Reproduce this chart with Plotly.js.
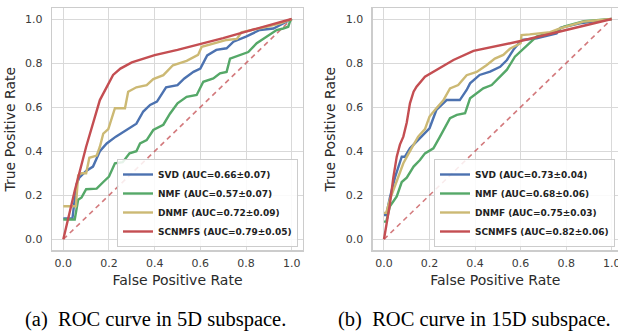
<!DOCTYPE html>
<html>
<head>
<meta charset="utf-8">
<script src="https://cdn.plot.ly/plotly-3.0.1.min.js"></script>
<style>html,body{margin:0;padding:0;background:#fff;}#chart{width:618px;height:331px;}</style>
</head>
<body>
<div id="chart"></div>
<script>
// ---- Data ----
const legendNamesA = ["SVD (AUC=0.66±0.07)", "NMF (AUC=0.57±0.07)", "DNMF (AUC=0.72±0.09)", "SCNMFS (AUC=0.79±0.05)"];
const legendNamesB = ["SVD (AUC=0.73±0.04)", "NMF (AUC=0.68±0.06)", "DNMF (AUC=0.75±0.03)", "SCNMFS (AUC=0.82±0.06)"];
const captions = ["(a)\u00A0 ROC curve in 5D subspace.", "(b)\u00A0 ROC curve in 15D subspace."];
const tickVals = [0.0, 0.2, 0.4, 0.6, 0.8, 1.0];
const tickText = ["0.0", "0.2", "0.4", "0.6", "0.8", "1.0"];
const diagX = [0, 1];
const diagY = [0, 1];

// Panel (a): 5D
const svdA_x = [0, 0.04, 0.058, 0.07, 0.1, 0.13, 0.16, 0.19, 0.23, 0.28, 0.32, 0.35, 0.38, 0.41, 0.45, 0.5, 0.53, 0.57, 0.6, 0.63, 0.67, 0.715, 0.745, 0.8, 0.86, 0.92, 0.96, 1.0];
const svdA_y = [0.095, 0.095, 0.25, 0.28, 0.31, 0.33, 0.40, 0.435, 0.466, 0.50, 0.525, 0.58, 0.61, 0.625, 0.69, 0.70, 0.73, 0.76, 0.775, 0.835, 0.86, 0.867, 0.897, 0.92, 0.95, 0.957, 0.98, 1.0];
const nmfA_x = [0, 0.05, 0.065, 0.08, 0.10, 0.146, 0.175, 0.2, 0.226, 0.26, 0.29, 0.32, 0.336, 0.365, 0.394, 0.438, 0.467, 0.5, 0.54, 0.584, 0.613, 0.657, 0.686, 0.715, 0.73, 0.774, 0.81, 0.847, 0.89, 0.934, 0.963, 0.985, 0.993, 1.0];
const nmfA_y = [0.09, 0.09, 0.18, 0.19, 0.227, 0.23, 0.26, 0.285, 0.345, 0.35, 0.39, 0.40, 0.435, 0.45, 0.496, 0.52, 0.57, 0.617, 0.647, 0.655, 0.715, 0.73, 0.753, 0.76, 0.82, 0.836, 0.85, 0.89, 0.92, 0.95, 0.957, 0.965, 0.99, 1.0];
const dnmfA_x = [0, 0.055, 0.065, 0.08, 0.10, 0.114, 0.146, 0.16, 0.175, 0.197, 0.226, 0.27, 0.284, 0.32, 0.365, 0.394, 0.438, 0.48, 0.54, 0.59, 0.606, 0.657, 0.715, 0.76, 0.78, 0.89, 0.95, 1.0];
const dnmfA_y = [0.15, 0.15, 0.29, 0.30, 0.30, 0.37, 0.38, 0.42, 0.48, 0.50, 0.595, 0.595, 0.67, 0.69, 0.70, 0.727, 0.745, 0.79, 0.81, 0.837, 0.874, 0.89, 0.905, 0.91, 0.94, 0.965, 0.98, 1.0];
const scnA_x = [0, 0.05, 0.1, 0.16, 0.218, 0.25, 0.3, 0.336, 0.4, 0.5, 0.6, 0.7, 0.8, 0.9, 1.0];
const scnA_y = [0, 0.22, 0.42, 0.632, 0.746, 0.775, 0.803, 0.815, 0.836, 0.86, 0.885, 0.913, 0.943, 0.97, 1.0];

// Panel (b): 15D
const svdB_x = [0, 0.01, 0.026, 0.048, 0.078, 0.092, 0.114, 0.158, 0.2, 0.23, 0.275, 0.333, 0.363, 0.378, 0.42, 0.466, 0.51, 0.54, 0.568, 0.604, 0.67, 0.758, 0.775, 0.86, 1.0];
const svdB_y = [0.11, 0.11, 0.19, 0.28, 0.375, 0.375, 0.413, 0.458, 0.504, 0.587, 0.632, 0.632, 0.678, 0.708, 0.746, 0.761, 0.783, 0.814, 0.86, 0.905, 0.912, 0.935, 0.96, 0.98, 1.0];
const nmfB_x = [0, 0.01, 0.026, 0.056, 0.078, 0.1, 0.13, 0.158, 0.18, 0.217, 0.246, 0.268, 0.29, 0.32, 0.356, 0.378, 0.407, 0.436, 0.473, 0.51, 0.54, 0.575, 0.62, 0.67, 0.745, 0.79, 0.878, 1.0];
const nmfB_y = [0.08, 0.08, 0.15, 0.195, 0.26, 0.28, 0.33, 0.36, 0.39, 0.413, 0.466, 0.51, 0.55, 0.565, 0.572, 0.64, 0.663, 0.685, 0.70, 0.738, 0.77, 0.829, 0.874, 0.92, 0.942, 0.965, 0.99, 1.0];
const dnmfB_x = [0, 0.01, 0.026, 0.056, 0.085, 0.114, 0.15, 0.18, 0.2, 0.23, 0.26, 0.29, 0.326, 0.363, 0.407, 0.45, 0.487, 0.524, 0.553, 0.6, 0.604, 0.64, 0.73, 0.773, 0.876, 1.0];
const dnmfB_y = [0.12, 0.12, 0.18, 0.26, 0.345, 0.40, 0.466, 0.50, 0.557, 0.595, 0.63, 0.685, 0.70, 0.745, 0.76, 0.79, 0.82, 0.837, 0.865, 0.89, 0.927, 0.93, 0.94, 0.958, 0.988, 1.0];
const scnB_x = [0, 0.026, 0.041, 0.056, 0.07, 0.085, 0.1, 0.114, 0.13, 0.143, 0.18, 0.25, 0.305, 0.393, 0.5, 0.6, 0.7, 0.8, 0.9, 1.0];
const scnB_y = [0, 0.16, 0.28, 0.375, 0.43, 0.466, 0.53, 0.617, 0.67, 0.693, 0.738, 0.78, 0.814, 0.855, 0.877, 0.9, 0.925, 0.95, 0.975, 1.0];

// ---- Styles ----
const colors = ["#4C72B0", "#55A868", "#CCB974", "#C44E52"];
const LW = 2.4;

function curve(x, y, name, ci, xa, ya, lg) {
  return {x: x, y: y, name: name, type: "scatter", mode: "lines",
    line: {color: colors[ci], width: LW}, xaxis: xa, yaxis: ya, legend: lg, hoverinfo: "skip"};
}
function diag(xa, ya) {
  return {x: diagX, y: diagY, type: "scatter", mode: "lines", showlegend: false, xaxis: xa, yaxis: ya,
    line: {color: "rgba(196,78,82,0.75)", width: 1.6, dash: "5px,4px"}, hoverinfo: "skip"};
}
const traces = [
  diag("x", "y"),
  curve(svdA_x, svdA_y, legendNamesA[0], 0, "x", "y", "legend"),
  curve(nmfA_x, nmfA_y, legendNamesA[1], 1, "x", "y", "legend"),
  curve(dnmfA_x, dnmfA_y, legendNamesA[2], 2, "x", "y", "legend"),
  curve(scnA_x, scnA_y, legendNamesA[3], 3, "x", "y", "legend"),
  diag("x2", "y2"),
  curve(svdB_x, svdB_y, legendNamesB[0], 0, "x2", "y2", "legend2"),
  curve(nmfB_x, nmfB_y, legendNamesB[1], 1, "x2", "y2", "legend2"),
  curve(dnmfB_x, dnmfB_y, legendNamesB[2], 2, "x2", "y2", "legend2"),
  curve(scnB_x, scnB_y, legendNamesB[3], 3, "x2", "y2", "legend2")
];

const tickFont = {family: "DejaVu Sans", size: 11, color: "#3a3a3a"};
const titleFont = {family: "DejaVu Sans", size: 14, color: "#2a2a2a"};
function xax(domain, range, anchor, mirror) {
  return {domain: domain, range: range, anchor: anchor, tickvals: tickVals, ticktext: tickText,
    showgrid: true, gridcolor: "#d9d9d9", gridwidth: 1, zeroline: false,
    showline: true, linecolor: "#cccccc", linewidth: 1.2, mirror: mirror,
    ticks: "outside", ticklen: 2, tickcolor: "rgba(0,0,0,0)", tickfont: tickFont,
    ticklabeloverflow: "allow",
    title: {text: "False Positive Rate", font: titleFont, standoff: 6}};
}
function yax(domain, anchor, mirror) {
  return {domain: domain, range: [-0.05, 1.05], anchor: anchor, tickvals: tickVals, ticktext: tickText,
    showgrid: true, gridcolor: "#d9d9d9", gridwidth: 1, zeroline: false,
    showline: true, linecolor: "#cccccc", linewidth: 1.2, mirror: mirror,
    ticks: "outside", ticklen: 6, tickcolor: "rgba(0,0,0,0)", tickfont: tickFont,
    title: {text: "True Positive Rate", font: titleFont, standoff: 6}};
}
const legendStyle = (xr) => ({x: xr, y: 1 - 247 / 331, xanchor: "right", yanchor: "bottom",
  bgcolor: "rgba(255,255,255,0.85)", bordercolor: "#cccccc", borderwidth: 1,
  font: {family: "DejaVu Sans", size: 9, color: "#222", weight: "bold"}, tracegroupgap: 0});

const yDom = [1 - 250.3 / 331, 1 - 8 / 331];
const capFont = {family: "Liberation Serif", size: 20.5, color: "#000"};
const layout = {
  width: 618, height: 331,
  margin: {l: 0, r: 0, t: 0, b: 0},
  paper_bgcolor: "#ffffff", plot_bgcolor: "#ffffff",
  xaxis: xax([51.9 / 618, 303.1 / 618], [-0.05, 1.05], "y", true),
  yaxis: yax(yDom, "x", true),
  xaxis2: xax([372.6 / 618, 1], [-0.05, (618 - 384) / 227.7], "y2", true),
  yaxis2: yax(yDom, "x2", false),
  legend: legendStyle(298 / 618),
  legend2: legendStyle(615 / 618),
  annotations: [
    {text: captions[0], xref: "paper", yref: "paper", x: 155 / 618, y: 1 - 319.5 / 331,
     xanchor: "center", yanchor: "middle", showarrow: false, font: capFont},
    {text: captions[1], xref: "paper", yref: "paper", x: 474.5 / 618, y: 1 - 319.5 / 331,
     xanchor: "center", yanchor: "middle", showarrow: false, font: capFont}
  ],
  showlegend: true
};
Plotly.newPlot("chart", traces, layout, {staticPlot: true, displayModeBar: false});
</script>
</body>
</html>
